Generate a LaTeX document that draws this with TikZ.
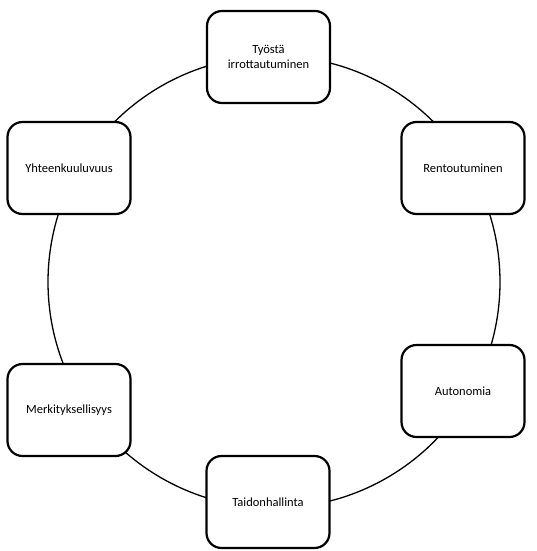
\documentclass[tikz,border=0pt]{standalone}
\usepackage{fontspec}
\setmainfont{Carlito}
\begin{document}
\begin{tikzpicture}[x=1pt,y=-1pt,
  box/.style={draw, line width=2.2pt, rounded corners=15pt, fill=white, align=center,
    inner sep=2pt, font=\fontsize{12.5}{15}\selectfont},
  hbox/.style={box, minimum width=123pt, minimum height=92pt},
  ring/.style={draw, line width=1.3pt}]
\useasboundingbox (0,0) rectangle (537,551);
\coordinate (c) at (274,282);
\draw[ring] (c) circle[radius=226pt];
\node[hbox] (top) at (268.5,57) {Työstä\\irrottautuminen};
\node[hbox] (tl) at (69,168) {Yhteenkuuluvuus};
\node[hbox] (tr) at (463,168) {Rentoutuminen};
\node[hbox] (br) at (463,391) {Autonomia};
\node[hbox] (bl) at (69,410) {Merkityksellisyys};
\node[hbox] (bot) at (268,502) {Taidonhallinta};
\end{tikzpicture}
\end{document}
